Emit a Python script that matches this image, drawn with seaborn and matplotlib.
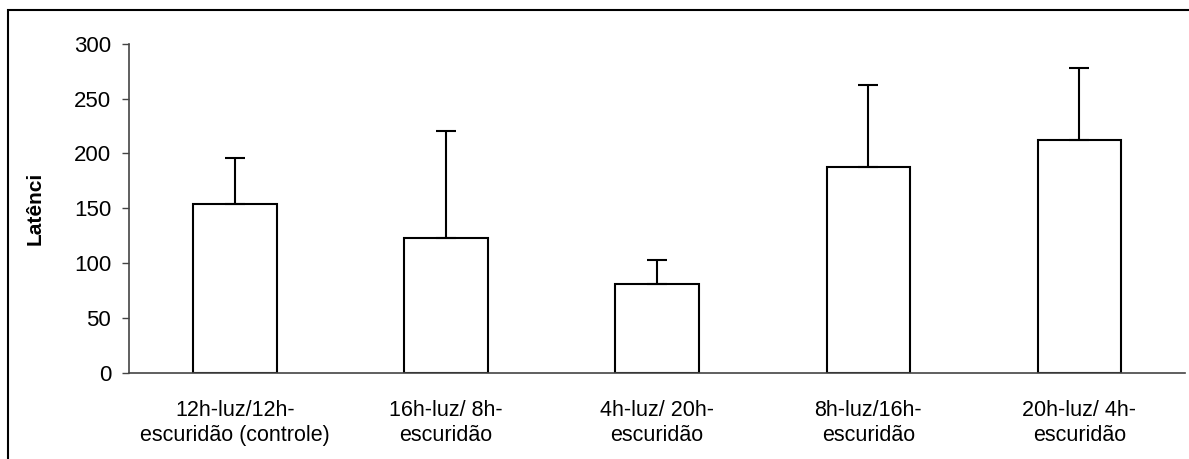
import matplotlib
matplotlib.use("Agg")
import matplotlib.pyplot as plt
import seaborn as sns
import numpy as np
import pandas as pd
from matplotlib.patches import Rectangle

categories = ["12h-luz/12h-\nescuridão (controle)", "16h-luz/ 8h-\nescuridão",
              "4h-luz/ 20h-\nescuridão", "8h-luz/16h-\nescuridão", "20h-luz/ 4h-\nescuridão"]
means = [154, 123, 81, 188, 212]
errors = [42, 97, 22, 74, 66]
yticks = [0, 50, 100, 150, 200, 250, 300]
ylabel = "Latênci"

sns.set_theme(style="white")
plt.rcParams['font.family'] = ['Liberation Sans', 'DejaVu Sans']
plt.rcParams['text.color'] = 'black'
plt.rcParams['axes.labelcolor'] = 'black'
plt.rcParams['xtick.labelcolor'] = 'black'
plt.rcParams['ytick.labelcolor'] = 'black'

fig = plt.figure(figsize=(11.89, 4.59), dpi=100)
ax = fig.add_axes([129.3/1189, 1-372.7/459, (1185-129.3)/1189, (372.7-43.7)/459])

df = pd.DataFrame({"cat": categories, "val": means})
sns.barplot(data=df, x="cat", y="val", ax=ax, color="white", edgecolor="black",
            linewidth=1.5, width=0.395, errorbar=None)
for p in ax.patches:
    p.set_facecolor("white")
x = np.arange(len(categories))
ax.errorbar(x, means, yerr=[np.zeros(len(errors)), errors], fmt="none",
            ecolor="black", elinewidth=1.5, capsize=7, capthick=1.5, zorder=3)

ax.set_xlim(-0.5, len(categories) - 0.5)
ax.set_ylim(0, 300)
ax.set_yticks(yticks)
ax.set_yticklabels([str(t) for t in yticks], fontsize=16, color="black")
ax.set_xticks(x)
ax.set_xticklabels(categories, fontsize=15.5, linespacing=1.2, color="black")
ax.tick_params(axis="x", which="major", length=0, pad=20)
ax.set_xticks(np.arange(-0.5, len(categories)), minor=True)
ax.tick_params(axis="x", which="minor", length=5, width=1, color="#444444", direction="out")
ax.tick_params(axis="y", which="major", length=5, width=1, color="#444444", direction="out", left=True, pad=8)
ax.set_xlabel("")
ax.set_ylabel(ylabel, fontsize=15, fontweight="bold", color="black")
ax.yaxis.set_label_coords(-(129.3-45)/(1185-129.3), (372.7-208)/(372.7-43.7))

sns.despine(ax=ax)
for s in ["left", "bottom"]:
    ax.spines[s].set_color("#444444")
    ax.spines[s].set_linewidth(1.2)

fig.patches.append(Rectangle((8/1189, -0.05), 1.1, 1 - 10/459 + 0.05, transform=fig.transFigure,
                             fill=False, edgecolor="black", linewidth=1.5, zorder=10))

fig.savefig("out.png", dpi=100, facecolor="white")
